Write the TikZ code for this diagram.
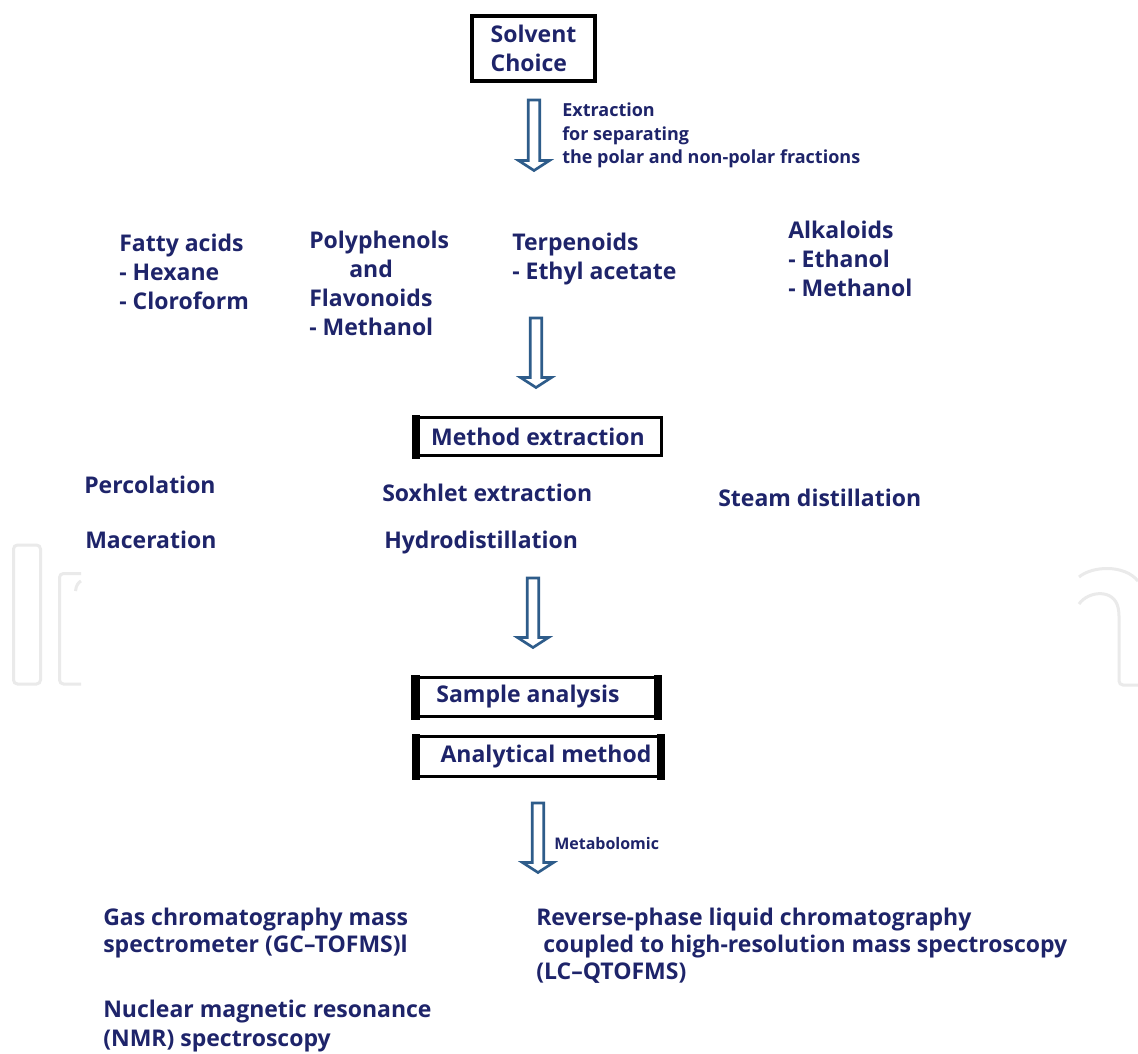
\documentclass[tikz,border=0pt]{standalone}
\usepackage{fontspec}
\setmainfont{Open Sans}
\usetikzlibrary{calc}
\definecolor{navy}{RGB}{30,36,106}
\definecolor{arrowblue}{RGB}{46,92,138}
\definecolor{wmgray}{RGB}{234,234,234}
\newdimen\px \px=0.75pt
\newcommand\mainfs{\fontsize{17.25pt}{21.75pt}\selectfont\bfseries}
\newcommand\botfs{\fontsize{17.25pt}{20.25pt}\selectfont\bfseries}
\newcommand\smallfs{\fontsize{13.5pt}{17.6pt}\selectfont\bfseries}
\newcommand\tinyfs{\fontsize{12pt}{14pt}\selectfont\bfseries}
\newcommand\hollowarrow[2]{%
  \draw[harrow] ($(#1)+(-5.7,0)$) -- ($(#2)+(-5.7,-10)$) -- ($(#2)+(-15.5,-10)$) -- (#2)
    -- ($(#2)+(15.5,-10)$) -- ($(#2)+(5.7,-10)$) -- ($(#1)+(5.7,0)$) -- cycle;}
\begin{document}
\begin{tikzpicture}[x=0.75pt,y=-0.75pt,
  lab/.style={anchor=north west, inner sep=0pt, align=left, text=navy, font=\mainfs},
  botlab/.style={lab, font=\botfs},
  sublab/.style={lab, font=\smallfs},
  boxed/.style={draw=black, line width=3pt, inner sep=0pt, text=navy, font=\mainfs, align=left},
  flat/.style={draw=black, line width=2.25pt, inner sep=0pt, text=navy, font=\mainfs},
  harrow/.style={draw=arrowblue, line width=2pt, fill=white, line join=miter},
  wm/.style={draw=wmgray, line width=2.25pt, rounded corners=3pt}]
\useasboundingbox (0,0) rectangle (1138,1053);
\fill[white] (0,0) rectangle (1138,1053);

% faint watermark
\draw[wm] (13.5,545) rectangle (40.5,684);
\draw[wm] (81,573.5) -- (59.5,573.5) -- (59.5,684) -- (81,684);
\draw[wm] (75.5,591) .. controls (76,585) and (79,582) .. (81,581);
\draw[wm] (1079,577) .. controls (1092,566) and (1124,564) .. (1138,581);
\draw[wm] (1079,604) .. controls (1088,591) and (1114,588) .. (1119,612) -- (1119,685) -- (1138,685);

% boxes
\node[boxed, minimum width=123*\px, minimum height=65*\px] (solvent) at (533.5,48.5)
  {Solvent\\Choice};
\node[flat, minimum width=247*\px, minimum height=38*\px] (method) at (538,436.5)
  {Method extraction};
\fill (method.north west) ++(-1.5,-1.5) rectangle ($(method.south west)+(6.5,1.5)$);
\node[flat, minimum width=245*\px, minimum height=39*\px] (sample) at (536,697)
  {Sample analysis\hspace*{16\px}};
\fill (sample.north west) ++(-1.5,-1.5) rectangle ($(sample.south west)+(7.5,1.5)$);
\fill (sample.north east) ++(1.5,-1.5) rectangle ($(sample.south east)+(-6.5,1.5)$);
\node[flat, minimum width=247*\px, minimum height=40*\px] (analytical) at (538,756.5)
  {\hspace*{16\px}Analytical method};
\fill (analytical.north west) ++(-1.5,-1.5) rectangle ($(analytical.south west)+(6.5,1.5)$);
\fill (analytical.north east) ++(1.5,-1.5) rectangle ($(analytical.south east)+(-6.5,1.5)$);

% texts
\node[sublab] (extr) at (562,100) {\strut Extraction\\\strut for separating\\\strut the polar and non-polar fractions};
\node[lab] (fatty) at (119,231) {\strut Fatty acids\\\strut - Hexane\\\strut - Cloroform};
\node[lab] (poly) at (309,228) {\strut Polyphenols\\\strut\hspace*{40\px}and\\\strut Flavonoids\\\strut - Methanol};
\node[lab] (terp) at (512,230) {\strut Terpenoids\\\strut - Ethyl acetate};
\node[lab] (alk) at (788,218) {\strut Alkaloids\\\strut - Ethanol\\\strut - Methanol};

\node[lab] (perc) at (84,473) {\strut Percolation};
\node[lab] (soxh) at (382,481) {\strut Soxhlet extraction};
\node[lab] (steam) at (718,486) {\strut Steam distillation};
\node[lab] (mace) at (85,528) {\strut Maceration};
\node[lab] (hydro) at (384,528) {\strut Hydrodistillation};

\node[anchor=west, inner sep=0pt, text=navy, font=\tinyfs] (metab) at (554,843) {Metabolomic};

\node[botlab] (gas) at (103,906) {\strut Gas chromatography mass\\\strut spectrometer (GC–TOFMS)l};
\node[lab] (nmr) at (103,997) {\strut Nuclear magnetic resonance\\\strut (NMR) spectroscopy};
\node[botlab] (rev) at (536,906) {\strut Reverse-phase liquid chromatography\\\strut\hspace*{7\px}coupled to high-resolution mass spectroscopy\\\strut (LC–QTOFMS)};

% hollow arrows
\coordinate (a1s) at (534,100);  \coordinate (a1e) at (534,170.5);
\coordinate (a2s) at (536,318);  \coordinate (a2e) at (536,387.5);
\coordinate (a3s) at (533,578);  \coordinate (a3e) at (533,647.5);
\coordinate (a4s) at (538,803);  \coordinate (a4e) at (538,872.5);
\hollowarrow{a1s}{a1e}
\hollowarrow{a2s}{a2e}
\hollowarrow{a3s}{a3e}
\hollowarrow{a4s}{a4e}
\end{tikzpicture}
\end{document}
